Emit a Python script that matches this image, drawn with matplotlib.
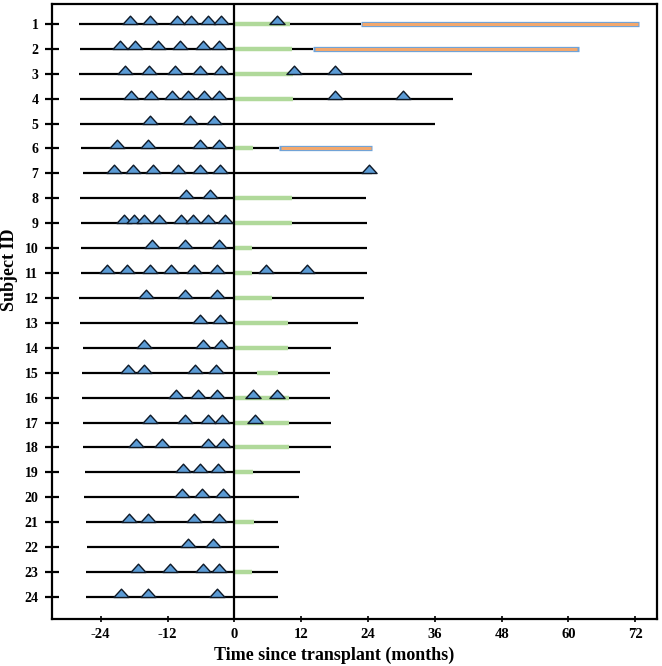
import matplotlib
matplotlib.use("Agg")
import matplotlib.pyplot as plt
from matplotlib.path import Path

# ---------------- data ----------------
subjects = list(range(1, 25))
line_start = [-27.9, -27.7, -27.9, -27.7, -27.7, -27.5, -27.2, -27.7, -27.5, -27.5, -27.5, -27.9,
              -27.7, -27.1, -27.3, -27.3, -27.2, -27.2, -26.8, -27.0, -26.6, -26.4, -26.6, -26.6]
line_end = [22.7, 14.1, 42.7, 39.3, 36.0, 8.0, 24.7, 23.6, 23.9, 23.9, 23.9, 23.3,
            22.2, 17.4, 17.1, 17.2, 17.4, 17.4, 11.7, 11.6, 7.8, 8.0, 7.8, 7.8]
events = [
    [-18.8, -15.1, -10.3, -7.8, -4.8, -2.4, 7.6],
    [-20.5, -17.8, -13.8, -9.7, -5.7, -2.7],
    [-19.6, -15.3, -10.6, -6.2, -2.4, 10.7, 18.1],
    [-18.5, -15.0, -11.2, -8.4, -5.4, -2.7, 18.1, 30.3],
    [-15.2, -8.0, -3.6],
    [-21.0, -15.5, -6.1, -2.7],
    [-21.6, -18.2, -14.7, -10.2, -6.2, -2.6, 24.2],
    [-8.7, -4.4],
    [-19.8, -18.0, -16.2, -13.5, -9.6, -7.4, -4.7, -1.7],
    [-14.8, -8.8, -2.7],
    [-22.8, -19.2, -15.2, -11.3, -7.2, -3.1, 5.6, 13.0],
    [-15.8, -8.9, -3.1],
    [-6.2, -2.6],
    [-16.3, -5.6, -2.4],
    [-19.1, -16.2, -7.1, -3.3],
    [-10.4, -6.6, -3.1, 3.3, 7.6],
    [-15.1, -8.9, -4.8, -2.3, 3.7],
    [-17.6, -13.0, -4.8, -2.1],
    [-9.2, -6.2, -2.9],
    [-9.4, -5.9, -2.0],
    [-19.0, -15.5, -7.2, -2.7],
    [-8.4, -3.9],
    [-17.3, -11.5, -5.7, -2.7],
    [-20.3, -15.5, -3.2],
]
green_start = [0, 0, 0, 0, None, 0, None, 0, 0, 0, 0, 0,
               0, 0, 4.1, 0, 0, 0, 0, None, 0, None, 0, None]
green_end = [10.0, 10.3, 10.6, 10.6, None, 3.4, None, 10.3, 10.3, 3.2, 3.2, 6.8,
             9.6, 9.6, 7.8, 9.8, 9.8, 9.8, 3.4, None, 3.5, None, 3.2, None]
orange_subjects = [1, 2, 6]
orange_start = [22.7, 14.1, 8.0]
orange_end = [72.7, 61.8, 24.8]
xticks = [-24, -12, 0, 12, 24, 36, 48, 60, 72]

# ---------------- style ----------------
serif = ["Liberation Serif", "DejaVu Serif"]
plt.rcParams["font.family"] = serif
plt.rcParams["font.weight"] = "bold"

fig = plt.figure(figsize=(6.62, 6.66), dpi=100)
ax = fig.add_axes([0.079, 0.0701, 0.9135, 0.9239])

tri = Path([(-1, 0), (1, 0), (0, 1.1), (-1, 0)],
           [Path.MOVETO, Path.LINETO, Path.LINETO, Path.CLOSEPOLY])

for i, s in enumerate(subjects):
    ax.plot([line_start[i], line_end[i]], [s, s], color="black", lw=1.6,
            solid_capstyle="butt", zorder=2)
    if green_start[i] is not None:
        ax.plot([green_start[i], green_end[i]], [s, s], color="#b0d99a", lw=3.2,
                solid_capstyle="butt", zorder=3)
    ax.plot(events[i], [s] * len(events[i]), linestyle="none", marker=tri,
            markersize=12, markerfacecolor="#5b9bd5", markeredgecolor="#0d1826",
            markeredgewidth=1.0, zorder=5)

for s, a, b in zip(orange_subjects, orange_start, orange_end):
    ax.plot([a, b], [s, s], color="#6fa3d9", lw=3.8, solid_capstyle="butt", zorder=3)
    ax.plot([a + 0.3, b - 0.3], [s, s], color="#f2a86e", lw=2.2,
            solid_capstyle="butt", zorder=4)

ax.axvline(0, color="black", lw=1.6, zorder=4)

ax.set_xlim(-32.7, 75.9)
ax.set_ylim(24.9, 0.2)
ax.set_xticks(xticks)
ax.set_xticklabels([str(t) for t in xticks])
ax.set_yticks(subjects)
ax.set_yticklabels([str(s) for s in subjects])

for sp in ax.spines.values():
    sp.set_linewidth(1.6)
ax.tick_params(axis="y", direction="inout", length=10, width=1.6, labelsize=10, pad=5)
ax.tick_params(axis="x", direction="inout", length=5, width=1.2, labelsize=10.5, pad=4)
for lab in ax.get_xticklabels() + ax.get_yticklabels():
    lab.set_fontweight("bold")

ax.set_xlabel("Time since transplant (months)", fontsize=13, fontweight="bold")
ax.set_ylabel("Subject ID", fontsize=13, fontweight="bold")
ax.xaxis.set_label_coords(0.466, -0.045, transform=ax.transAxes)
ax.yaxis.set_label_coords(-0.0705, 0.568, transform=ax.transAxes)
ax.yaxis.label.set_verticalalignment("center")
ax.xaxis.label.set_verticalalignment("top")

fig.savefig("out.png", dpi=100)
